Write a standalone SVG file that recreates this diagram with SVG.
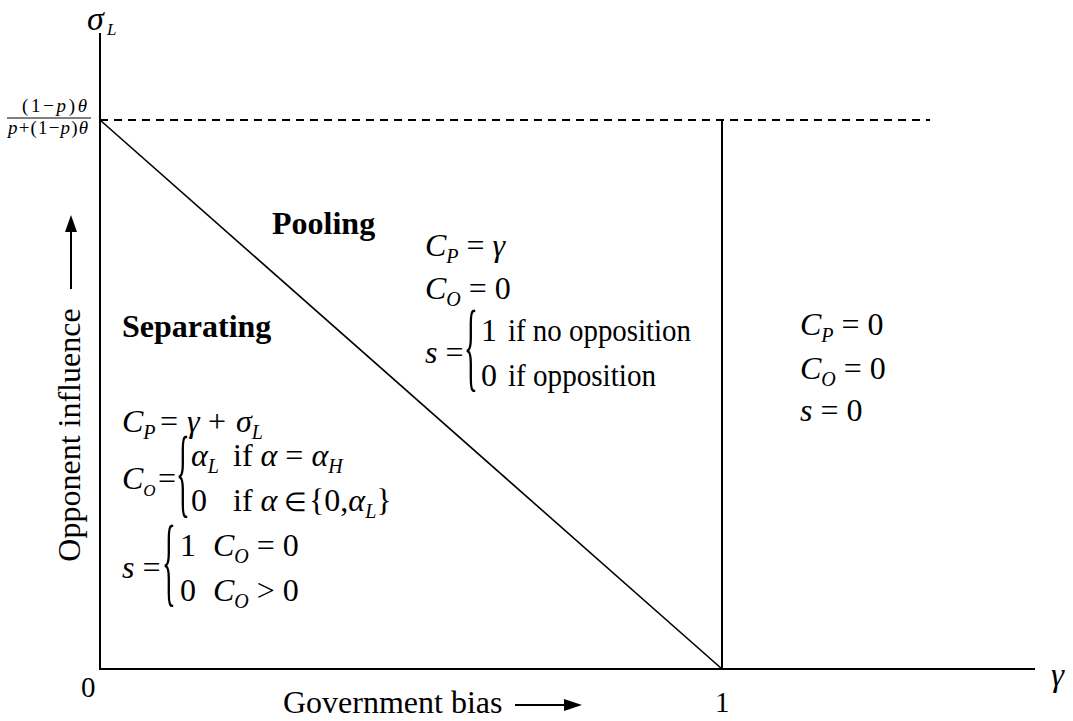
<svg xmlns="http://www.w3.org/2000/svg" width="1073" height="721" viewBox="0 0 1073 721">
<style>
text{font-family:"Liberation Serif","Times New Roman",serif;fill:#000}
.m{font-size:32px}
.i{font-style:italic}
.b{font-weight:bold;font-size:32px}
.s{font-size:20px;font-style:italic}
.ss{font-size:17px;font-style:italic}
.br{font-size:96px}
.ax{stroke:#000;stroke-width:2;fill:none}
</style>
<rect width="1073" height="721" fill="#fff"/>
<g id="axes">
<line class="ax" x1="100" y1="33" x2="100" y2="670"/>
<line class="ax" x1="99" y1="669" x2="1035" y2="669" stroke-width="2.5"/>
<line class="ax" x1="722" y1="121" x2="722" y2="669"/>
<line stroke="#000" stroke-width="1.8" stroke-dasharray="8,6" x1="100" y1="120" x2="930" y2="120"/>
<line stroke="#000" stroke-width="1.6" x1="100" y1="120" x2="722" y2="669"/>
</g>
<g id="axis-labels">
<text x="87" y="30" class="i" font-size="34">σ</text>
<text x="107" y="35" class="i" font-size="17">L</text>
<text x="22" y="112" font-size="19" textLength="65" lengthAdjust="spacing">(1−<tspan class="i">p</tspan>)<tspan class="i">θ</tspan></text>
<line x1="7" y1="118" x2="91" y2="118" stroke="#000" stroke-width="1"/>
<text x="8" y="134" font-size="19" textLength="80" lengthAdjust="spacing"><tspan class="i">p</tspan>+(1−<tspan class="i">p</tspan>)<tspan class="i">θ</tspan></text>
<text x="81" y="697" font-size="29">0</text>
<text x="715" y="712" font-size="29">1</text>
<text x="1051" y="686" class="i" font-size="33">γ</text>
<text x="283" y="713" font-size="32">Government bias</text>
<line x1="515" y1="705" x2="566" y2="705" stroke="#000" stroke-width="2"/>
<polygon points="564,699 582,705 564,711" fill="#000"/>
<text transform="translate(80,435) rotate(-90)" font-size="32" text-anchor="middle">Opponent influence</text>
<line x1="71" y1="289" x2="71" y2="230" stroke="#000" stroke-width="2"/>
<polygon points="65,232 71,215 77,232" fill="#000"/>
</g>
<g id="pooling">
<text x="272" y="234" class="b">Pooling</text>
<text x="425" y="256" class="m"><tspan class="i">C</tspan><tspan class="s" dy="7">P</tspan><tspan dy="-7"> = </tspan><tspan class="i">γ</tspan></text>
<text x="425" y="299" class="m"><tspan class="i">C</tspan><tspan class="s" dy="7">O</tspan><tspan dy="-7"> = 0</tspan></text>
<text x="425" y="363" class="m"><tspan class="i">s</tspan> =</text>
<text transform="translate(464,379) scale(0.3,1.03)" class="br">{</text>
<text x="481" y="341" class="m">1</text>
<text x="508" y="341" class="m" textLength="183" lengthAdjust="spacingAndGlyphs">if no opposition</text>
<text x="481" y="386" class="m">0</text>
<text x="508" y="386" class="m" textLength="148" lengthAdjust="spacingAndGlyphs">if opposition</text>
</g>
<g id="separating">
<text x="122" y="337" class="b">Separating</text>
<text x="122" y="432" class="m"><tspan class="i">C</tspan><tspan class="s" dy="7">P</tspan><tspan dy="-7" x="160">=</tspan><tspan class="i" x="187">γ</tspan><tspan x="208">+</tspan><tspan class="i" x="236">σ</tspan><tspan class="s" dy="7">L</tspan></text>
<text x="122" y="489" class="m"><tspan class="i">C</tspan><tspan class="ss" dy="7">O</tspan><tspan dy="-7" x="158">=</tspan></text>
<text transform="translate(176,505) scale(0.3,1.03)" class="br">{</text>
<text x="191" y="466" class="m"><tspan class="i">α</tspan><tspan class="s" dy="7">L</tspan><tspan dy="-7" x="233">if </tspan><tspan class="i">α</tspan> = <tspan class="i">α</tspan><tspan class="s" dy="7">H</tspan></text>
<text x="191" y="511" class="m">0<tspan x="233">if </tspan><tspan class="i">α</tspan><tspan font-size="26" x="284">∈</tspan><tspan x="309">{0,</tspan><tspan class="i">α</tspan><tspan class="s" dy="7">L</tspan><tspan dy="-7">}</tspan></text>
<text x="122" y="578" class="m"><tspan class="i">s</tspan> =</text>
<text transform="translate(162,594) scale(0.3,1.03)" class="br">{</text>
<text x="180" y="556" class="m">1<tspan x="213" class="i">C</tspan><tspan class="s" dy="7">O</tspan><tspan dy="-7"> = 0</tspan></text>
<text x="180" y="601" class="m">0<tspan x="213" class="i">C</tspan><tspan class="s" dy="7">O</tspan><tspan dy="-7"> &gt; 0</tspan></text>
</g>
<g id="no-signal">
<text x="800" y="335" class="m"><tspan class="i">C</tspan><tspan class="s" dy="7">P</tspan><tspan dy="-7"> = 0</tspan></text>
<text x="800" y="379" class="m"><tspan class="i">C</tspan><tspan class="s" dy="7">O</tspan><tspan dy="-7"> = 0</tspan></text>
<text x="800" y="421" class="m"><tspan class="i">s</tspan> = 0</text>
</g>
</svg>
